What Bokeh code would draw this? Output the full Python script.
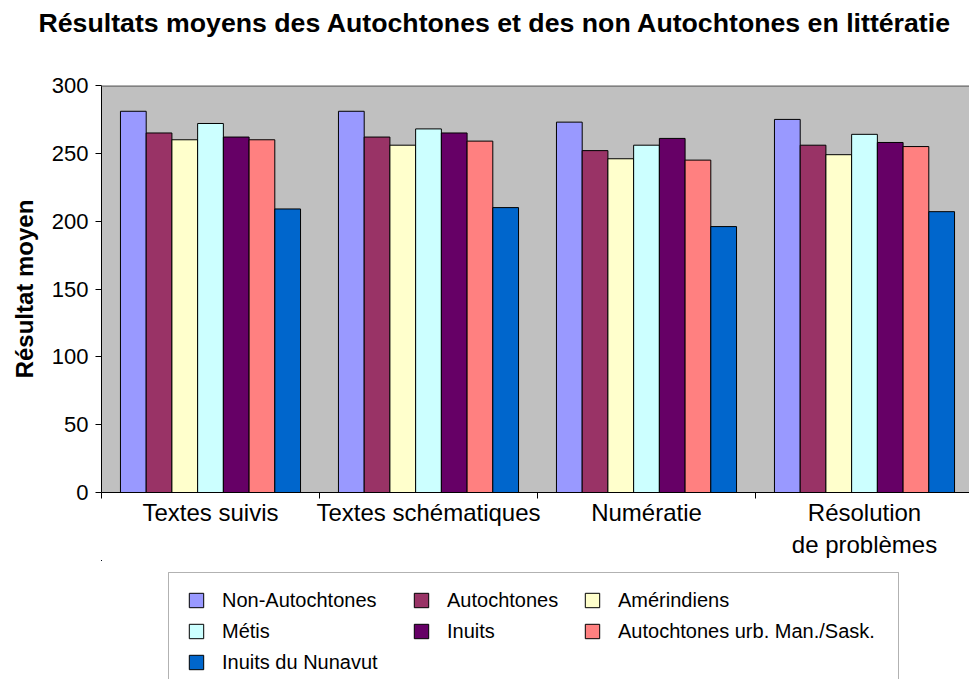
from bokeh.plotting import figure
from bokeh.layouts import column
from bokeh.models import (Range1d, LinearAxis, FixedTicker, BoxAnnotation, Title,
                          Legend, LegendItem, Span, ColumnDataSource)
from bokeh.transform import dodge
from bokeh.embed import file_html
from bokeh.resources import INLINE

categories = ["Textes suivis", "Textes schématiques", "Numératie", "Résolution\nde problèmes"]
series = ["Non-Autochtones", "Autochtones", "Amérindiens", "Métis", "Inuits",
          "Autochtones urb. Man./Sask.", "Inuits du Nunavut"]
non_autochtones = [281, 281, 273, 275]
autochtones = [265, 262, 252, 256]
amerindiens = [260, 256, 246, 249]
metis = [272, 268, 256, 264]
inuits = [262, 265, 261, 258]
urb_man_sask = [260, 259, 245, 255]
inuits_nunavut = [209, 210, 196, 207]
y_ticks = [0, 50, 100, 150, 200, 250, 300]

values = [non_autochtones, autochtones, amerindiens, metis, inuits, urb_man_sask, inuits_nunavut]
colors = ["#9999FF", "#993366", "#FFFFCC", "#CCFFFF", "#660066", "#FF8080", "#0066CC"]

FONT = "Liberation Sans"
W, H = 969, 679
FL, FT, FB = 101, 85, 493          # frame left / top / bottom in canvas pixels
PH = 560                           # height of the chart part; the legend strip follows
QH = H - PH

# category slots on a numeric axis: slot i spans [i, i+1]; the last slot runs past the edge
centers = [i + 0.5 for i in range(len(categories))]
bounds = list(range(len(categories) + 1))

p = figure(width=W, height=PH, output_backend="svg", toolbar_location=None,
           x_range=Range1d(0, len(categories) * (W - FL) / 872), y_range=Range1d(0, 300),
           min_border_left=FL, min_border_right=0, min_border_top=FT, min_border_bottom=PH - FB,
           background_fill_color="#C0C0C0", border_fill_color="white",
           x_axis_type=None, y_axis_type=None)
p.outline_line_color = None

# y axis
yax = LinearAxis(ticker=FixedTicker(ticks=y_ticks), axis_label="Résultat moyen")
yax.axis_line_color = "black"
yax.major_tick_line_color = "black"
yax.major_tick_in = 0
yax.major_tick_out = 6
yax.minor_tick_line_color = None
yax.major_label_text_font = FONT
yax.major_label_text_font_size = "22px"
yax.major_label_text_color = "black"
yax.major_label_standoff = 7
yax.axis_label_text_font = FONT
yax.axis_label_text_font_size = "24px"
yax.axis_label_text_font_style = "bold"
yax.axis_label_text_color = "black"
yax.axis_label_standoff = 11
p.add_layout(yax, "left")

# x axis with boundary ticks
xax = LinearAxis(ticker=FixedTicker(ticks=bounds))
xax.axis_line_color = "black"
xax.major_tick_line_color = "black"
xax.major_tick_in = 0
xax.major_tick_out = 6
xax.minor_tick_line_color = None
xax.major_label_text_font_size = "1px"
xax.major_label_text_alpha = 0
xax.major_label_standoff = 0
p.add_layout(xax, "below")

# category labels
cax = LinearAxis(ticker=FixedTicker(ticks=centers))
cax.major_label_overrides = {c: lab for c, lab in zip(centers, categories)}
cax.axis_line_color = None
cax.major_tick_line_color = None
cax.minor_tick_line_color = None
cax.major_label_text_font = FONT
cax.major_label_text_font_size = "24px"
cax.major_label_text_color = "black"
cax.major_label_standoff = -6
p.add_layout(cax, "below")

# grid
p.ygrid.ticker = FixedTicker(ticks=y_ticks)
p.ygrid.grid_line_color = "black"
p.ygrid.grid_line_width = 1
p.xgrid.grid_line_color = None
p.add_layout(Span(location=300, dimension="width", line_color="#808080", line_width=3))

bw = 0.118
for i, (name, vals, col) in enumerate(zip(series, values, colors)):
    src = ColumnDataSource(dict(x=centers, val=vals))
    p.vbar(x=dodge("x", (i - 3) * bw), top="val", width=bw, bottom=0,
           source=src, fill_color=col, line_color="black", line_width=1)

# titles
p.add_layout(Title(text=" ", text_font_size="28px"), "above")
p.title.text = "Résultats moyens des Autochtones et des non Autochtones en littératie"
p.title.text_font = FONT
p.title.text_font_size = "26.7px"
p.title.text_font_style = "bold"
p.title.text_color = "black"
p.title.align = "left"
p.title.offset = 38 - FL

# ---- legend strip: a second figure whose data units equal canvas pixels ----
q = figure(width=W, height=QH, output_backend="svg", toolbar_location=None,
           x_range=Range1d(FL, W), y_range=Range1d(0, QH),
           min_border_left=FL, min_border_right=0, min_border_top=0, min_border_bottom=0,
           x_axis_type=None, y_axis_type=None, background_fill_color="white",
           border_fill_color="white")
q.outline_line_color = None
q.xgrid.visible = False
q.ygrid.visible = False
q.add_layout(BoxAnnotation(left=168, right=898, top=H - 572, bottom=-20,
                           fill_color="white", fill_alpha=1.0,
                           line_color="black", line_width=1, level="underlay"))

# legend keys: zero-height copies of the series, lying outside this strip's view
keys = {}
for i, (name, vals, col) in enumerate(zip(series, values, colors)):
    src = ColumnDataSource(dict(x=centers, val=vals))
    keys[name] = q.vbar(x=dodge("x", (i - 3) * bw), top="val", bottom="val", width=bw,
                        source=src, fill_color=col, line_color="black", line_width=1)

legend_cols = [
    (["Non-Autochtones", "Métis", "Inuits du Nunavut"], 187),
    (["Autochtones", "Inuits"], 412),
    (["Amérindiens", "Autochtones urb. Man./Sask."], 583),
]
ROW_TOP = 588
for names, x0 in legend_cols:
    n = len(names)
    h = n * 24 + (n - 1) * 7
    lg = Legend(items=[LegendItem(label=nm, renderers=[keys[nm]]) for nm in names],
                location=(x0 - FL, H - (ROW_TOP + h)))
    lg.label_text_font = FONT
    lg.label_text_font_size = "20px"
    lg.label_text_color = "black"
    lg.glyph_width = 18
    lg.glyph_height = 18
    lg.label_height = 24
    lg.label_standoff = 17
    lg.spacing = 7
    lg.padding = 0
    lg.margin = 0
    lg.border_line_color = None
    lg.background_fill_alpha = 0
    q.add_layout(lg, "center")

layout = column(p, q, spacing=0)
open("out.html", "w").write(file_html(layout, INLINE))
